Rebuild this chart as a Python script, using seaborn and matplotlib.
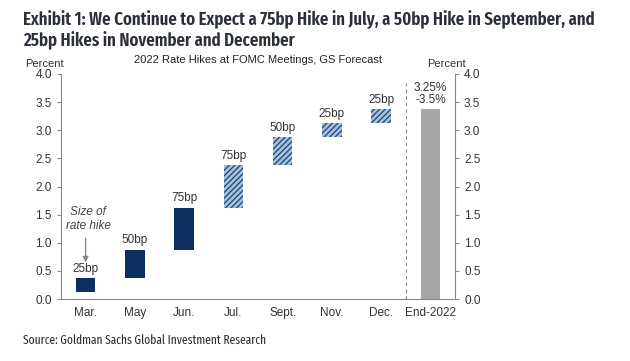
import matplotlib
matplotlib.use("Agg")
import matplotlib.pyplot as plt
import seaborn as sns
import pandas as pd

categories = ["Mar.", "May", "Jun.", "Jul.", "Sept.", "Nov.", "Dec.", "End-2022"]
bottoms = [0.125, 0.375, 0.875, 1.625, 2.375, 2.875, 3.125, 0.0]
tops = [0.375, 0.875, 1.625, 2.375, 2.875, 3.125, 3.375, 3.375]
labels = ["25bp", "50bp", "75bp", "75bp", "50bp", "25bp", "25bp", "3.25%\n-3.5%"]
kinds = ["actual", "actual", "actual", "forecast", "forecast", "forecast", "forecast", "total"]

df = pd.DataFrame({"cat": categories, "bottom": bottoms, "top": tops,
                   "label": labels, "kind": kinds})
df["height"] = df["top"] - df["bottom"]

sns.set_style("white")
plt.rcParams["font.family"] = ["Liberation Sans", "DejaVu Sans"]
plt.rcParams["hatch.linewidth"] = 1.0

fig = plt.figure(figsize=(6.3, 3.61), dpi=100)
ax = fig.add_axes([61/630, 1-299/361, (455-61)/630, (299-74)/361])

navy = "#0c2f5e"
styles = {
    "actual": dict(color=navy, edgecolor=navy, linewidth=0),
    "forecast": dict(color="#a9c3de", edgecolor="#234d7d", linewidth=0, hatch="//////"),
    "total": dict(color="#a6a6a6", edgecolor="#a6a6a6", linewidth=0),
}
for _, row in df.iterrows():
    sub = df[df["cat"] == row["cat"]]
    sns.barplot(data=sub, x="cat", y="height", order=categories, bottom=row["bottom"],
                width=0.4, saturation=1, ax=ax, **styles[row["kind"]])

for i, row in df.iterrows():
    ax.text(i, row["top"] + 0.06, row["label"], ha="center", va="bottom",
            fontsize=8.5, color="#333333", linespacing=1.0)

ax.set_xlim(-0.5, 7.5)
ax.set_ylim(0, 4.0)
ax.set_xlabel("")
ax.set_ylabel("")
ax.set_yticks([0, 0.5, 1, 1.5, 2, 2.5, 3, 3.5, 4])
ax.set_yticklabels([f"{v:.1f}" for v in ax.get_yticks()], fontsize=8.5, color="#333333")
ax.tick_params(axis="x", length=0, labelsize=8.5, labelcolor="#333333", pad=6)
ax.set_xticks(range(len(categories)), categories)
ax.set_xticks([k + 0.5 for k in range(7)], minor=True)
ax.tick_params(axis="x", which="minor", length=3, direction="out", color="#888888", width=0.8)
ax.tick_params(axis="y", length=3, direction="out", color="#888888", width=0.8, left=True)

for s in ["left", "bottom"]:
    ax.spines[s].set_color("#888888")
    ax.spines[s].set_linewidth(0.8)
for s in ["top", "right"]:
    ax.spines[s].set_visible(False)

ax2 = ax.twinx()
ax2.set_ylim(0, 4.0)
ax2.set_yticks([0, 0.5, 1, 1.5, 2, 2.5, 3, 3.5, 4])
ax2.set_yticklabels([f"{v:.1f}" for v in ax2.get_yticks()], fontsize=8.5, color="#333333")
ax2.tick_params(axis="y", length=3, direction="out", color="#888888", width=0.8, right=True)
for s in ["left", "bottom", "top"]:
    ax2.spines[s].set_visible(False)
ax2.spines["right"].set_color("#888888")
ax2.spines["right"].set_linewidth(0.8)

ax.axvline(6.5, ymin=0, ymax=0.96, color="#888888", linestyle=(0, (3, 3)), linewidth=0.8)

ax.text(0.05, 1.42, "Size of\nrate hike", ha="center", va="center", fontsize=8.5,
        style="italic", color="#444444", linespacing=1.15)
ax.annotate("", xy=(0, 0.6), xytext=(0, 1.13),
            arrowprops=dict(arrowstyle="-|>", color="#888888", lw=1.0, mutation_scale=8))

fig.text(258/630, 1-60/361, "2022 Rate Hikes at FOMC Meetings, GS Forecast",
         ha="center", va="center", fontsize=8, color="#222222")
fig.text(44/630, 1-64/361, "Percent", ha="center", va="center", fontsize=8, color="#333333")
fig.text(446/630, 1-64/361, "Percent", ha="center", va="center", fontsize=8, color="#333333")

title_font = ["Fira Sans Extra Condensed", "Fira Sans Condensed", "DejaVu Sans"]
fig.text(23/630, 1-20/361, "Exhibit 1: We Continue to Expect a 75bp Hike in July, a 50bp Hike in September, and",
         ha="left", va="center", fontsize=13.2, fontweight=600,
         color="#2b2f3a", family=title_font)
fig.text(23/630, 1-41/361, "25bp Hikes in November and December",
         ha="left", va="center", fontsize=13.2, fontweight=600,
         color="#2b2f3a", family=title_font)
fig.text(23/630, 1-340/361, "Source: Goldman Sachs Global Investment Research",
         ha="left", va="center", fontsize=9.0, color="#2b2f3a", family=title_font)

fig.savefig("out.png", dpi=100)
